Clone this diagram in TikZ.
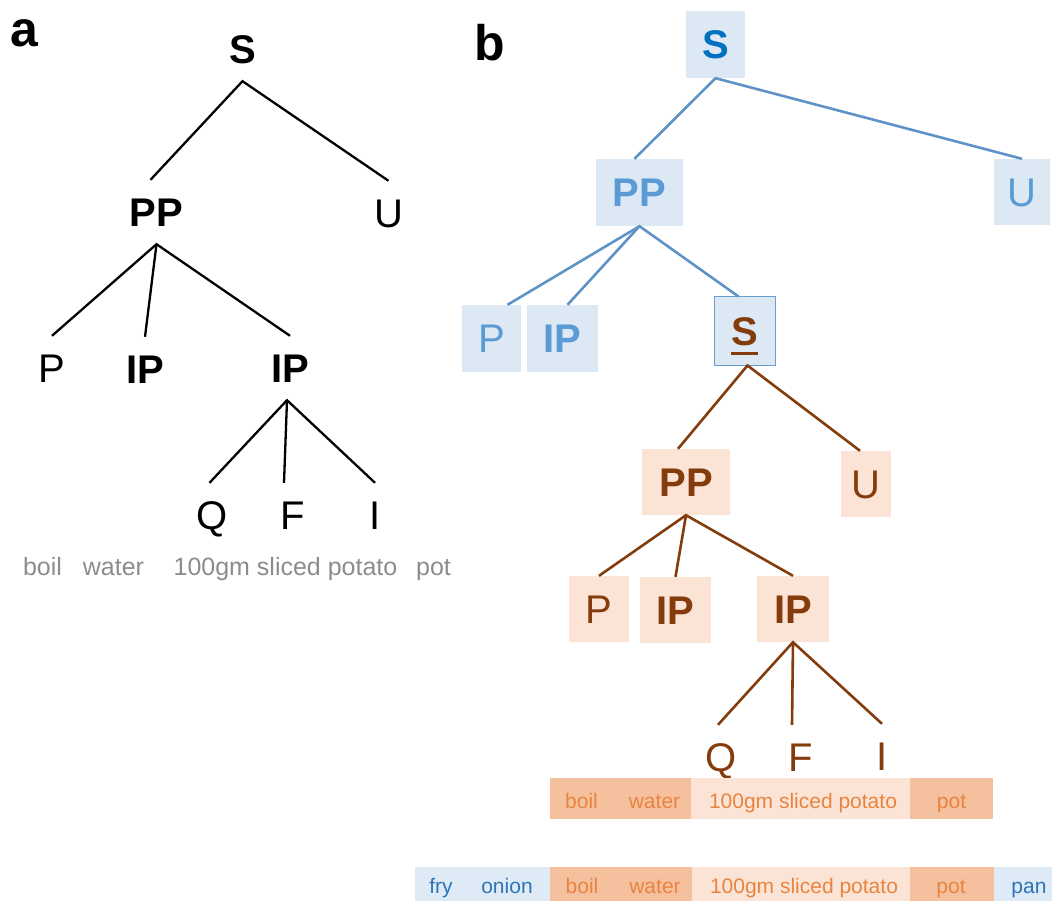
\documentclass[tikz,border=0pt]{standalone}
\usepackage{fontspec}
\setmainfont{Liberation Sans}
\usetikzlibrary{calc}
\definecolor{gtext}{HTML}{8C8C8C}
\definecolor{bdark}{HTML}{0070C0}
\definecolor{btext}{HTML}{5B9BD5}
\definecolor{cbline}{HTML}{5F93C8}
\definecolor{bfill}{HTML}{DCE8F4}
\definecolor{bborder}{HTML}{6C9BD0}
\definecolor{brn}{HTML}{843C0C}
\definecolor{ofill}{HTML}{FBE4D6}
\definecolor{odark}{HTML}{F5C09E}
\definecolor{otext}{HTML}{E8843F}
\definecolor{btxt}{HTML}{2E75B6}
\definecolor{bbar}{HTML}{DEEBF7}
\begin{document}
\begin{tikzpicture}[x=1pt,y=-1pt,
  lab/.style={font=\fontsize{50}{50}\selectfont\bfseries, anchor=base, inner sep=0pt},
  ta/.style={font=\fontsize{40}{40}\selectfont, inner sep=0pt, text height=28.6pt, text depth=0pt, minimum height=64pt},
  tab/.style={ta, font=\fontsize{40}{40}\selectfont\bfseries},
  gw/.style={font=\fontsize{25}{25}\selectfont, text=gtext, anchor=base, inner sep=0pt},
  al/.style={draw=black, line width=2.3pt},
  bx/.style={inner sep=0pt, text height=28.6pt, text depth=0pt, minimum height=67pt, font=\fontsize{40}{40}\selectfont},
  bbx/.style={bx, fill=bfill},
  obx/.style={bx, fill=ofill, text=brn},
  bl/.style={draw=cbline, line width=2.6pt},
  ol/.style={draw=brn, line width=2.6pt},
  bt/.style={font=\fontsize{21}{21}\selectfont, anchor=base, inner sep=0pt}
]
\useasboundingbox (0,0) rectangle (1052,901);

% panel labels
\node[lab] (la) at (24.5,47) {a};
\node[lab] (lb) at (490,61) {b};

% ---------- panel a ----------
\node[tab] (aS)  at (242.5,49) {S};
\node[tab] (aPP) at (156.5,212) {PP};
\node[ta]  (aU)  at (388.5,213) {U};
\node[ta]  (aP)  at (52,368) {P};
\node[tab] (aIP) at (145,369) {IP};
\node[tab] (aIQ) at (290,368) {IP};
\node[ta]  (aQ)  at (212.5,515) {Q};
\node[ta]  (aF)  at (293,515) {F};
\node[ta]  (aI)  at (375,515) {I};

\draw[al] ([xshift=-6pt]aPP.north) -- (aS.south) -- (aU.north);
\draw[al] (aP.north) -- (aPP.south) -- (aIQ.north);
\draw[al] (aPP.south) -- (aIP.north);
\draw[al] ([xshift=-3pt]aQ.north) -- ([xshift=-3pt]aIQ.south) -- (aI.north);
\draw[al] ([xshift=-3pt]aIQ.south) -- ([xshift=-9pt]aF.north);

\node[gw] (aw1) at (42.5,575) {boil};
\node[gw] (aw2) at (113.5,575) {water};
\node[gw] (aw3) at (285.5,575) {100gm sliced potato};
\node[gw] (aw4) at (433.5,575) {pot};

% ---------- panel b ----------
\node[bbx, minimum width=59pt, text=bdark, font=\fontsize{40}{40}\selectfont\bfseries] (bS) at (715.5,44.5) {S};
\node[bbx, minimum width=87pt, text=btext, font=\fontsize{40}{40}\selectfont\bfseries] (bPP) at (639.5,192.5) {PP};
\node[bbx, minimum width=56pt, minimum height=66pt, text=btext] (bU) at (1022,192) {U};
\node[bbx, minimum width=59pt, text=btext] (bP) at (491.5,338.5) {P};
\node[bbx, minimum width=71pt, text=btext, font=\fontsize{40}{40}\selectfont\bfseries] (bIP) at (562.5,338.5) {IP};
\node[bbx, draw=bborder, line width=1pt, minimum width=61pt, minimum height=68pt, text=brn, font=\fontsize{40}{40}\selectfont\bfseries] (bSu) at (744.5,331) {S};
\draw[brn, line width=3pt] ([xshift=-13.5pt,yshift=-22pt]bSu.center) -- ([xshift=13.5pt,yshift=-22pt]bSu.center);

\draw[bl] ([xshift=-5pt]bPP.north) -- (bS.south) -- (bU.north);
\draw[bl] ([xshift=16pt]bP.north) -- (bPP.south) -- ([xshift=-6pt]bSu.north);
\draw[bl] (bPP.south) -- ([xshift=5pt]bIP.north);

\node[obx, minimum width=88pt, minimum height=66pt, font=\fontsize{40}{40}\selectfont\bfseries] (oPP) at (686,482) {PP};
\node[obx, minimum width=50pt, minimum height=66pt] (oU) at (866,484) {U};
\node[obx, minimum width=60pt, minimum height=66pt] (oP) at (599,609) {P};
\node[obx, minimum width=71pt, minimum height=66pt, font=\fontsize{40}{40}\selectfont\bfseries] (oIP) at (675.5,610) {IP};
\node[obx, minimum width=72pt, minimum height=66pt, font=\fontsize{40}{40}\selectfont\bfseries] (oIQ) at (793,609) {IP};

\draw[ol] ([xshift=-8pt]oPP.north) -- ([xshift=3pt]bSu.south) -- ([xshift=-6pt]oU.north);
\draw[ol] (oP.north) -- (oPP.south) -- (oIQ.north);
\draw[ol] (oPP.south) -- (oIP.north);

\node[ta, text=brn] (oQ) at (721,757) {Q};
\node[ta, text=brn] (oF) at (801,757) {F};
\node[ta, text=brn] (oI) at (882,756) {I};
\draw[ol] ([xshift=-3pt]oQ.north) -- (oIQ.south) -- (oI.north);
\draw[ol] (oIQ.south) -- ([xshift=-9pt]oF.north);

% bar 1
\fill[odark] (550,778) rectangle (691,819);
\fill[ofill] (691,778) rectangle (910,819);
\fill[odark] (910,778) rectangle (993,819);
\node[bt, text=otext] (w1) at (581.5,808) {boil};
\node[bt, text=otext] (w2) at (654.5,808) {water};
\node[bt, text=otext] (w3) at (803,808) {100gm sliced potato};
\node[bt, text=otext] (w4) at (951.5,808) {pot};

% bar 2
\fill[bbar]  (415,867) rectangle (550,901);
\fill[odark] (550,867) rectangle (692,901);
\fill[ofill] (692,867) rectangle (910,901);
\fill[odark] (910,867) rectangle (994,901);
\fill[bbar]  (994,867) rectangle (1052,901);
\node[bt, text=btxt] (v1) at (441,893) {fry};
\node[bt, text=btxt] (v2) at (507,893) {onion};
\node[bt, text=otext] (v3) at (582,893) {boil};
\node[bt, text=otext] (v4) at (655,893) {water};
\node[bt, text=otext] (v5) at (804,893) {100gm sliced potato};
\node[bt, text=otext] (v6) at (951,893) {pot};
\node[bt, text=btxt] (v7) at (1029,893) {pan};
\end{tikzpicture}
\end{document}
